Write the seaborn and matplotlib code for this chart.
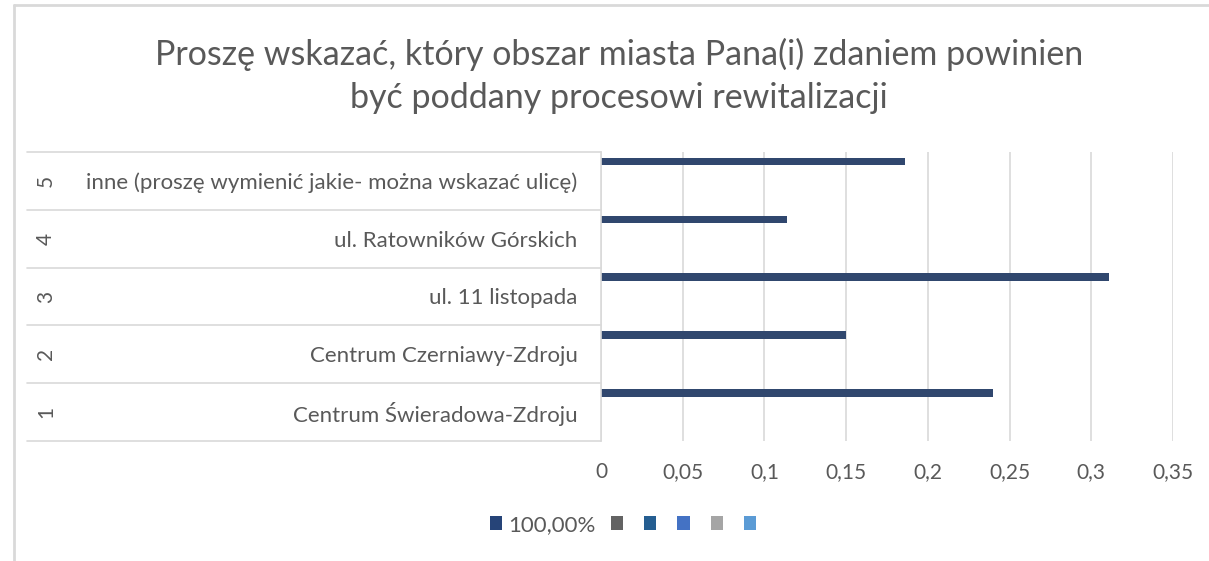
import seaborn as sns
import matplotlib.pyplot as plt
import matplotlib.transforms as mtransforms
from matplotlib.patches import Patch
from matplotlib.lines import Line2D
import pandas as pd

# data
numbers = ["1", "2", "3", "4", "5"]
categories = ["Centrum Świeradowa-Zdroju", "Centrum Czerniawy-Zdroju",
              "ul. 11 listopada", "ul. Ratowników Górskich",
              "inne (proszę wymienić jakie- można wskazać ulicę)"]
share = [0.24, 0.15, 0.311, 0.114, 0.186]
series_names = ["100,00%", "s2", "s3", "s4", "s5", "s6"]
legend_labels = ["100,00%", "", "", "", "", ""]
series_colors = ["#264478", "#636363", "#255E91", "#4472C4", "#A5A5A5", "#5B9BD5"]
xticks = [0, 0.05, 0.1, 0.15, 0.2, 0.25, 0.3, 0.35]
title = "Proszę wskazać, który obszar miasta Pana(i) zdaniem powinien\nbyć poddany procesowi rewitalizacji"

sns.set_theme(style="white")
plt.rcParams['font.family'] = ['Lato', 'DejaVu Sans']
text_color = "#595959"
grid_color = "#d9d9d9"

# top category drawn first (top of the axis)
order = categories[::-1]
rows = []
for cat, val in zip(categories, share):
    rows.append({"cat": cat, "series": series_names[0], "value": val})
    for s in series_names[1:]:
        rows.append({"cat": cat, "series": s, "value": 0.0})
df = pd.DataFrame(rows)

fig = plt.figure(figsize=(12.09, 5.61), dpi=100)
ax = fig.add_axes([601 / 1209, 1 - 441 / 561, (1173 - 601) / 1209, (441 - 152) / 561])

sns.barplot(data=df, y="cat", x="value", hue="series", order=order,
            hue_order=series_names, palette=series_colors, orient="h",
            width=0.8, linewidth=0, ax=ax, legend=False)

ax.set_xlim(0, 0.35)
ax.set_ylim(4.5, -0.5)
ax.set_xticks(xticks)
ax.set_xticklabels([f"{t:g}".replace(".", ",") for t in xticks],
                   fontsize=15, color=text_color)
ax.tick_params(axis="x", length=0, pad=15)
ax.xaxis.grid(True, color=grid_color, linewidth=1.2)
ax.set_axisbelow(True)
for side in ["top", "right", "bottom"]:
    ax.spines[side].set_visible(False)
ax.spines["left"].set_color(grid_color)
ax.spines["left"].set_linewidth(1.2)
ax.set_xlabel("")
ax.set_ylabel("")

# category labels
ax.set_yticks(range(len(order)))
ax.set_yticklabels(order, fontsize=16, color=text_color)
ax.tick_params(axis="y", length=0, pad=17)

# rotated category numbers and separators for the two-level axis
trans = mtransforms.blended_transform_factory(ax.transAxes, ax.transData)
left = (27 - 601) / (1173 - 601)
for i, num in enumerate(numbers[::-1]):
    ax.text((46 - 601) / (1173 - 601), i, num, transform=trans, rotation=90,
            ha="center", va="center", fontsize=15, color=text_color)
for b in [-0.5, 0.5, 1.5, 2.5, 3.5, 4.5]:
    ax.plot([left, 0], [b, b], transform=trans, color=grid_color,
            linewidth=1.2, clip_on=False)

# legend
handles = [Patch(facecolor=c, edgecolor="none") for c in series_colors]
fig.legend(handles, legend_labels, loc="center", bbox_to_anchor=(626 / 1209, 1 - 525 / 561),
           ncol=6, frameon=False, fontsize=16, handlelength=0.55, handleheight=0.55,
           handletextpad=0.25, columnspacing=0.7, labelcolor=text_color)

fig.text(619 / 1209, 1 - 76 / 561, title, ha="center", va="center",
         fontsize=24.5, color=text_color, linespacing=1.45)

# chart border
fig.add_artist(Line2D([13.5 / 1209, 13.5 / 1209], [0, 1 - 5 / 561],
                      transform=fig.transFigure, color=grid_color, linewidth=2))
fig.add_artist(Line2D([13.5 / 1209, 1], [1 - 5 / 561, 1 - 5 / 561],
                      transform=fig.transFigure, color=grid_color, linewidth=2))

fig.savefig("out.png", dpi=100, facecolor="white")
